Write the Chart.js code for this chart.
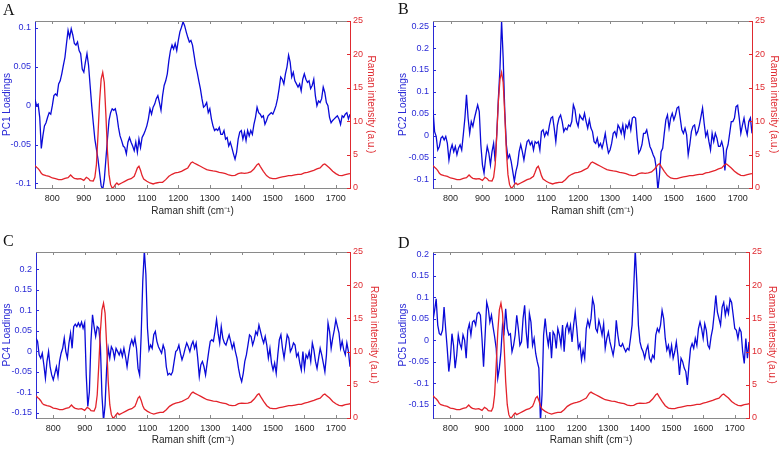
<!DOCTYPE html>
<html>
<head>
<meta charset="utf-8">
<script src="https://cdn.jsdelivr.net/npm/chart.js@4.4.0/dist/chart.umd.min.js"></script>
<style>
html, body { margin: 0; padding: 0; background: #fff; }
#fig { position: relative; width: 780px; height: 449px; overflow: hidden; }
.panel { position: absolute; }
.panel canvas { display: block; }
.tag { position: absolute; font-family: "Liberation Serif", "Times New Roman", serif; font-size: 16px; line-height: 16px; color: #111; }
</style>
</head>
<body>
<div id="fig">
  <div class="panel" style="left:0px;top:0px"><canvas id="chartA" width="390" height="225"></canvas></div>
  <div class="panel" style="left:390px;top:0px"><canvas id="chartB" width="390" height="225"></canvas></div>
  <div class="panel" style="left:0px;top:225px"><canvas id="chartC" width="390" height="224"></canvas></div>
  <div class="panel" style="left:390px;top:225px"><canvas id="chartD" width="390" height="224"></canvas></div>
  <div class="tag" style="left:3px;top:2px">A</div>
  <div class="tag" style="left:398px;top:1px">B</div>
  <div class="tag" style="left:3px;top:233px">C</div>
  <div class="tag" style="left:398px;top:235px">D</div>
</div>
<script>
// Raman shift grid of the PCA loadings (cm-1)
const ramanShift = [
    745, 750, 755, 760, 765, 770, 775, 780, 785, 790, 795,
    800, 805, 810, 815, 820, 825, 830, 835, 840, 845, 850, 855, 860, 865, 870, 875, 880, 885, 890, 895,
    900, 905, 910, 915, 920, 925, 930, 935, 940, 945, 950, 955, 960, 965, 970, 975, 980, 985, 990, 995,
    1000, 1005, 1010, 1015, 1020, 1025, 1030, 1035, 1040, 1045, 1050, 1055, 1060, 1065, 1070, 1075, 1080, 1085, 1090, 1095,
    1100, 1105, 1110, 1115, 1120, 1125, 1130, 1135, 1140, 1145, 1150, 1155, 1160, 1165, 1170, 1175, 1180, 1185, 1190, 1195,
    1200, 1205, 1210, 1215, 1220, 1225, 1230, 1235, 1240, 1245, 1250, 1255, 1260, 1265, 1270, 1275, 1280, 1285, 1290, 1295,
    1300, 1305, 1310, 1315, 1320, 1325, 1330, 1335, 1340, 1345, 1350, 1355, 1360, 1365, 1370, 1375, 1380, 1385, 1390, 1395,
    1400, 1405, 1410, 1415, 1420, 1425, 1430, 1435, 1440, 1445, 1450, 1455, 1460, 1465, 1470, 1475, 1480, 1485, 1490, 1495,
    1500, 1505, 1510, 1515, 1520, 1525, 1530, 1535, 1540, 1545, 1550, 1555, 1560, 1565, 1570, 1575, 1580, 1585, 1590, 1595,
    1600, 1605, 1610, 1615, 1620, 1625, 1630, 1635, 1640, 1645, 1650, 1655, 1660, 1665, 1670, 1675, 1680, 1685, 1690, 1695,
    1700, 1705, 1710, 1715, 1720, 1725, 1730, 1735, 1740, 1745
];

const pc1Loadings = [
    0.008, 0.0, 0.002, -0.015, -0.055, -0.039, -0.026, -0.022, -0.015, -0.009, -0.011,
    0.0, 0.013, 0.015, 0.013, 0.028, 0.032, 0.041, 0.052, 0.062, 0.08, 0.097, 0.088, 0.099, 0.091, 0.08, 0.078, 0.082, 0.071, 0.067, 0.047,
    0.043, 0.056, 0.067, 0.052, 0.026, 0.0, -0.022, -0.043, -0.056, -0.069, -0.086, -0.103, -0.108, -0.095, -0.069, -0.043, -0.019, -0.009, -0.004, -0.006,
    -0.004, -0.013, -0.028, -0.039, -0.045, -0.052, -0.054, -0.062, -0.047, -0.041, -0.047, -0.052, -0.058, -0.047, -0.060, -0.043, -0.054, -0.041, -0.037, -0.032,
    -0.026, -0.017, -0.004, -0.011, -0.002, 0.002, 0.009, 0.013, 0.004, -0.006, 0.013, 0.026, 0.032, 0.041, 0.058, 0.071, 0.078, 0.073, 0.080, 0.071,
    0.084, 0.095, 0.101, 0.108, 0.103, 0.095, 0.088, 0.082, 0.084, 0.078, 0.065, 0.052, 0.043, 0.032, 0.022, 0.009, -0.002, 0.0, 0.004, -0.009,
    -0.004, -0.017, -0.026, -0.032, -0.030, -0.032, -0.028, -0.037, -0.037, -0.032, -0.043, -0.041, -0.052, -0.047, -0.054, -0.062, -0.069, -0.060, -0.043, -0.034,
    -0.032, -0.043, -0.034, -0.045, -0.032, -0.039, -0.032, -0.037, -0.024, -0.015, -0.002, -0.009, -0.011, -0.015, -0.013, -0.024, -0.019, -0.013, -0.011, -0.009,
    -0.011, -0.006, 0.0, 0.009, 0.022, 0.037, 0.034, 0.028, 0.041, 0.050, 0.065, 0.056, 0.037, 0.043, 0.032, 0.028, 0.024, 0.028, 0.019, 0.034,
    0.041, 0.034, 0.030, 0.032, 0.022, 0.026, 0.034, 0.013, 0.0, 0.006, 0.004, 0.009, 0.024, 0.017, 0.004, 0.0, -0.015, -0.022, -0.019, -0.017,
    -0.015, -0.013, -0.017, -0.024, -0.013, -0.015, -0.011, -0.009, -0.017, -0.011
];

const pc2Loadings = [
    0.059, 0.009, -0.002, -0.033, -0.025, -0.006, -0.002, -0.010, -0.002, -0.018, -0.056,
    -0.033, -0.021, -0.037, -0.025, -0.044, -0.029, -0.021, -0.033, 0.002, 0.040, 0.093, 0.040, 0.005, 0.032, 0.021, 0.040, 0.055, 0.070, 0.055, -0.021,
    -0.067, -0.086, -0.052, -0.025, -0.040, -0.067, -0.037, -0.018, -0.059, 0.005, 0.085, 0.154, 0.262, 0.177, 0.055, -0.021, -0.052, -0.044, -0.059, -0.082,
    -0.105, -0.082, -0.067, -0.037, -0.021, -0.037, -0.056, -0.033, -0.014, -0.010, -0.021, -0.014, -0.033, -0.014, -0.018, -0.014, -0.033, 0.009, 0.013, -0.002,
    0.009, 0.002, 0.024, 0.040, 0.043, 0.017, -0.014, 0.024, 0.040, 0.047, 0.032, 0.009, 0.017, 0.013, 0.024, 0.021, 0.032, 0.070, 0.059, 0.032,
    0.021, 0.047, 0.040, 0.036, 0.051, 0.032, 0.017, 0.036, 0.017, 0.009, -0.014, -0.018, -0.006, -0.025, -0.018, -0.029, -0.014, 0.005, -0.021, -0.040,
    -0.033, -0.018, 0.005, 0.009, -0.002, 0.024, 0.017, 0.005, 0.024, -0.002, 0.024, 0.017, 0.032, 0.013, 0.040, 0.043, 0.040, -0.006, -0.040, -0.033,
    -0.021, 0.005, 0.005, 0.013, -0.006, -0.025, -0.033, -0.044, -0.052, -0.075, -0.125, -0.090, -0.037, -0.029, 0.005, 0.036, 0.047, 0.017, 0.040, 0.051,
    0.036, 0.047, 0.063, 0.066, 0.040, 0.013, 0.005, 0.017, 0.002, -0.044, -0.021, 0.009, 0.021, 0.024, 0.002, 0.009, 0.024, 0.043, 0.063, 0.028,
    -0.002, 0.009, -0.014, -0.033, 0.005, -0.014, 0.005, -0.006, -0.025, -0.025, -0.014, -0.029, -0.080, -0.033, -0.021, 0.005, 0.032, 0.032, 0.040, 0.066,
    0.069, 0.040, 0.005, 0.024, 0.040, 0.017, 0.002, 0.032, 0.040, 0.005
];

const pc4Loadings = [
    0.032, 0.024, -0.009, -0.017, -0.005, -0.033, -0.066, -0.025, -0.001, -0.038, -0.058,
    -0.070, -0.054, -0.038, -0.062, -0.025, -0.005, 0.007, 0.032, -0.001, -0.017, 0.020, 0.044, 0.007, 0.060, 0.066, 0.060, 0.069, 0.060, 0.071, 0.056,
    0.069, -0.058, -0.135, -0.099, 0.024, 0.089, 0.060, 0.036, 0.060, 0.056, 0.015, -0.107, -0.170, -0.131, -0.042, 0.007, -0.017, 0.011, 0.003, -0.017,
    0.007, -0.001, -0.009, 0.003, -0.013, 0.007, -0.013, -0.038, -0.009, 0.015, 0.028, 0.015, 0.032, 0.007, -0.042, -0.058, 0.040, 0.170, 0.245, 0.187,
    0.056, 0.003, 0.015, 0.007, 0.040, 0.048, 0.024, 0.011, 0.003, -0.005, 0.015, 0.003, -0.038, -0.058, -0.054, -0.058, -0.050, -0.025, -0.001, 0.003,
    0.015, -0.005, -0.021, -0.009, 0.007, 0.020, 0.011, -0.001, 0.015, 0.024, 0.007, 0.020, -0.017, -0.062, -0.033, -0.025, -0.038, -0.058, -0.029, -0.001,
    0.024, 0.028, 0.024, 0.048, 0.077, 0.044, 0.020, 0.060, 0.032, 0.020, 0.015, 0.028, 0.040, 0.024, 0.007, 0.020, -0.001, -0.017, -0.042, -0.062,
    -0.074, -0.054, -0.025, -0.009, 0.015, 0.040, 0.036, 0.015, 0.028, 0.048, 0.040, 0.064, 0.048, 0.032, 0.020, 0.036, 0.015, -0.017, 0.007, -0.029,
    -0.046, -0.029, -0.054, -0.009, 0.028, 0.040, 0.007, -0.017, 0.011, 0.040, 0.032, -0.001, 0.007, 0.020, 0.015, -0.013, -0.005, -0.029, -0.046, -0.001,
    -0.042, -0.009, -0.017, -0.001, -0.025, 0.020, 0.003, -0.025, -0.042, -0.017, 0.007, -0.009, -0.029, -0.050, -0.009, 0.069, 0.048, 0.007, 0.032, 0.052,
    0.077, 0.060, 0.044, 0.007, 0.024, 0.003, -0.009, 0.020, -0.001, -0.038
];

const pc5Loadings = [
    0.046, 0.069, 0.096, 0.035, 0.015, 0.012, 0.023, 0.077, 0.027, -0.019, -0.073,
    -0.042, 0.015, -0.012, -0.065, -0.035, 0.012, -0.008, -0.019, 0.012, 0.0, -0.042, 0.023, 0.038, 0.012, 0.042, 0.046, 0.035, 0.062, 0.065, 0.058,
    0.004, -0.062, 0.012, 0.088, 0.073, 0.042, 0.058, 0.031, 0.008, -0.019, -0.088, -0.065, -0.027, 0.035, 0.019, 0.073, 0.027, 0.012, 0.015, -0.027,
    -0.012, 0.012, 0.058, 0.027, -0.012, -0.004, 0.050, 0.081, 0.019, -0.019, 0.062, 0.042, -0.012, 0.004, -0.031, -0.050, -0.065, -0.190, -0.127, 0.012,
    0.050, 0.012, -0.012, 0.019, -0.042, 0.019, 0.012, -0.019, 0.027, 0.012, -0.012, 0.035, -0.027, 0.027, 0.038, 0.019, 0.035, -0.004, 0.035, 0.065,
    0.027, -0.019, -0.008, -0.046, -0.023, -0.042, 0.027, 0.046, 0.031, 0.050, 0.096, 0.081, 0.027, 0.019, 0.046, 0.031, 0.012, 0.038, -0.019, 0.004,
    0.019, -0.004, -0.019, -0.035, -0.012, 0.046, 0.012, -0.012, -0.015, -0.008, -0.019, -0.027, -0.019, -0.023, 0.004, 0.035, 0.119, 0.210, 0.135, 0.035,
    -0.004, -0.019, -0.027, -0.042, -0.023, -0.012, -0.042, -0.050, -0.035, -0.042, 0.012, 0.027, 0.019, 0.035, 0.069, 0.050, 0.004, -0.023, -0.012, -0.035,
    -0.012, -0.042, -0.027, -0.004, -0.035, -0.081, -0.042, -0.050, -0.065, -0.073, -0.104, -0.058, -0.019, -0.008, -0.019, 0.004, -0.012, 0.027, 0.042, 0.027,
    0.004, 0.038, 0.023, -0.012, -0.019, 0.008, 0.027, 0.062, 0.104, 0.065, 0.050, 0.035, 0.077, 0.088, 0.058, 0.077, 0.062, 0.096, 0.088, 0.058,
    0.027, 0.023, 0.004, 0.027, 0.019, -0.027, -0.054, 0.004, -0.042, -0.004
];

// Mean Raman spectrum (same in every panel)
const spectrumShift = [
    745, 750, 755, 760, 765, 770, 780, 790, 800, 810, 820, 830, 840, 850, 858, 865, 870, 880, 890, 900,
    908, 915, 920, 930, 935, 940, 945, 950, 955, 960, 965, 970, 975, 980, 985, 990, 995, 1000, 1005, 1010,
    1020, 1030, 1040, 1050, 1060, 1065, 1070, 1075, 1080, 1085, 1090, 1100, 1110, 1120, 1130, 1140, 1150, 1160, 1170, 1180,
    1190, 1200, 1210, 1220, 1230, 1240, 1245, 1250, 1260, 1270, 1280, 1290, 1300, 1310, 1320, 1330, 1340, 1350, 1360, 1370,
    1380, 1390, 1400, 1410, 1420, 1430, 1440, 1450, 1455, 1460, 1470, 1480, 1490, 1500, 1510, 1520, 1530, 1540, 1550, 1560,
    1570, 1580, 1590, 1600, 1610, 1620, 1630, 1640, 1650, 1660, 1665, 1670, 1680, 1690, 1700, 1710, 1720, 1730, 1740, 1745
];
const spectrumIntensity = [
    3.35, 3.1, 2.9, 2.6, 2.2, 2.0, 1.85, 1.75, 1.5, 1.4, 1.25, 1.25, 1.45, 1.55, 1.95, 1.6, 1.45, 1.35, 1.4, 1.15,
    1.6, 1.4, 1.1, 1.05, 1.6, 3.5, 8.0, 13.0, 16.3, 17.3, 15.8, 11.0, 5.5, 2.0, 0.5, 0.0, 0.15, 0.5, 0.75, 0.5,
    0.75, 1.0, 1.25, 1.4, 1.75, 2.35, 3.0, 3.25, 2.65, 1.85, 1.35, 1.0, 0.75, 0.6, 0.75, 0.85, 0.85, 1.25, 1.75, 2.05,
    2.25, 2.35, 2.5, 2.75, 3.0, 3.75, 3.9, 3.75, 3.5, 3.25, 3.0, 2.75, 2.65, 2.55, 2.5, 2.35, 2.25, 2.15, 1.95, 1.85,
    1.9, 2.15, 2.25, 2.2, 2.25, 2.4, 2.85, 3.5, 3.65, 3.25, 2.5, 1.85, 1.5, 1.4, 1.4, 1.55, 1.65, 1.75, 1.85, 1.85,
    1.95, 2.05, 2.05, 2.25, 2.35, 2.5, 2.65, 2.85, 3.0, 3.5, 3.6, 3.4, 3.0, 2.5, 2.15, 1.9, 1.85, 2.0, 2.1, 2.15
];

// Tick labels
const shiftTicks = [800, 900, 1000, 1100, 1200, 1300, 1400, 1500, 1600, 1700];
const intensityTicks = [0, 5, 10, 15, 20, 25];
const pc1Ticks = [-0.1, -0.05, 0, 0.05, 0.1];
const pc2Ticks = [-0.1, -0.05, 0, 0.05, 0.1, 0.15, 0.2, 0.25];
const pc4Ticks = [-0.15, -0.1, -0.05, 0, 0.05, 0.1, 0.15, 0.2];
const pc5Ticks = [-0.15, -0.1, -0.05, 0, 0.05, 0.1, 0.15, 0.2];

// Colours
const colors = {
    loadings: '#0a0ad8',
    loadingsText: '#2a2ad6',
    raman: '#e3232b',
    ramanText: '#df2a30',
    frame: '#8a8a8a',
    text: '#262626'
};

Chart.defaults.font.family = '"Liberation Sans", Arial, Helvetica, sans-serif';
Chart.defaults.font.size = 9;

// Matlab-like box: top edge plus inward tick marks on all four sides
const boxPlugin = {
    id: 'matlabBox',
    afterDatasetsDraw(chart) {
        const { ctx, chartArea: a, scales } = chart;
        const len = 3;
        ctx.save();
        ctx.lineWidth = 1;
        ctx.strokeStyle = colors.frame;
        ctx.beginPath();
        ctx.moveTo(a.left, a.top + 0.5);
        ctx.lineTo(a.right, a.top + 0.5);
        scales.x.ticks.forEach(t => {
            const px = Math.round(scales.x.getPixelForValue(t.value)) + 0.5;
            ctx.moveTo(px, a.bottom);
            ctx.lineTo(px, a.bottom - len);
            ctx.moveTo(px, a.top);
            ctx.lineTo(px, a.top + len);
        });
        ctx.stroke();

        ctx.strokeStyle = colors.loadingsText;
        ctx.beginPath();
        scales.y.ticks.forEach(t => {
            const py = Math.round(scales.y.getPixelForValue(t.value)) + 0.5;
            ctx.moveTo(a.left, py);
            ctx.lineTo(a.left + len, py);
        });
        ctx.stroke();

        ctx.strokeStyle = colors.ramanText;
        ctx.beginPath();
        scales.y1.ticks.forEach(t => {
            const py = Math.round(scales.y1.getPixelForValue(t.value)) + 0.5;
            ctx.moveTo(a.right, py);
            ctx.lineTo(a.right - len, py);
        });
        ctx.stroke();
        ctx.restore();
    }
};

function fixedTicks(values) {
    return function(scale) {
        scale.ticks = values.map(v => ({ value: v }));
    };
}

function initPanel(canvasId, loadings, yLabel, yMin, yMax, yTicks, geom) {
    const ctx = document.getElementById(canvasId).getContext('2d');

    const loadingPoints = ramanShift.map((x, i) => ({ x: x, y: loadings[i] }));
    const spectrumPoints = spectrumShift.map((x, i) => ({ x: x, y: spectrumIntensity[i] }));

    return new Chart(ctx, {
        type: 'line',
        data: {
            datasets: [
                {
                    label: 'Raman intensity',
                    data: spectrumPoints,
                    yAxisID: 'y1',
                    borderColor: colors.raman,
                    borderWidth: 1.3,
                    pointRadius: 0,
                    tension: 0,
                    fill: false,
                    clip: 0,
                    order: 0
                },
                {
                    label: yLabel,
                    data: loadingPoints,
                    yAxisID: 'y',
                    borderColor: colors.loadings,
                    borderWidth: 1.3,
                    pointRadius: 0,
                    tension: 0,
                    fill: false,
                    clip: 0,
                    order: 1
                }
            ]
        },
        options: {
            responsive: false,
            devicePixelRatio: 1,
            animation: false,
            events: [],
            layout: { padding: geom.pad },
            plugins: {
                legend: { display: false },
                tooltip: { enabled: false }
            },
            scales: {
                x: {
                    type: 'linear',
                    min: 745,
                    max: 1745,
                    afterBuildTicks: fixedTicks(shiftTicks),
                    afterFit: s => { s.height = geom.bottomH; },
                    grid: { display: false, drawTicks: false },
                    border: { display: true, color: colors.frame, width: 1 },
                    ticks: {
                        color: colors.text,
                        padding: 5,
                        autoSkip: false,
                        maxRotation: 0,
                        callback: v => String(v)
                    },
                    title: {
                        display: true,
                        text: 'Raman shift (cm\u207B\u00B9)',
                        color: colors.text,
                        font: { size: 10 },
                        padding: { top: 0, bottom: geom.xTitlePad }
                    }
                },
                y: {
                    type: 'linear',
                    position: 'left',
                    min: yMin,
                    max: yMax,
                    afterBuildTicks: fixedTicks(yTicks),
                    afterFit: s => { s.width = geom.leftW; },
                    grid: { display: false, drawTicks: false },
                    border: { display: true, color: colors.loadingsText, width: 1 },
                    ticks: {
                        color: colors.loadingsText,
                        padding: 4,
                        callback: v => String(v)
                    },
                    title: {
                        display: true,
                        text: yLabel,
                        color: colors.loadingsText,
                        font: { size: 10 },
                        padding: { top: 1, bottom: 0 }
                    }
                },
                y1: {
                    type: 'linear',
                    position: 'right',
                    min: 0,
                    max: 25,
                    afterBuildTicks: fixedTicks(intensityTicks),
                    afterFit: s => { s.width = geom.rightW; },
                    grid: { display: false, drawTicks: false },
                    border: { display: true, color: colors.ramanText, width: 1 },
                    ticks: {
                        color: colors.ramanText,
                        padding: 3,
                        callback: v => String(v)
                    },
                    title: {
                        display: true,
                        text: 'Raman intensity (a.u.)',
                        color: colors.ramanText,
                        font: { size: 10 },
                        padding: { top: 0, bottom: 0 }
                    }
                }
            }
        },
        plugins: [boxPlugin]
    });
}

initPanel('chartA', pc1Loadings, 'PC1 Loadings', -0.106, 0.109, pc1Ticks,
    { pad: { left: 0, top: 21, right: 13, bottom: 0 }, leftW: 35, rightW: 27, bottomH: 37, xTitlePad: 8 });
initPanel('chartB', pc2Loadings, 'PC2 Loadings', -0.12, 0.262, pc2Ticks,
    { pad: { left: 6, top: 21, right: 0, bottom: 0 }, leftW: 37, rightW: 28, bottomH: 37, xTitlePad: 8 });
initPanel('chartC', pc4Loadings, 'PC4 Loadings', -0.163, 0.242, pc4Ticks,
    { pad: { left: 0, top: 27, right: 10, bottom: 0 }, leftW: 36, rightW: 30, bottomH: 31, xTitlePad: 3 });
initPanel('chartD', pc5Loadings, 'PC5 Loadings', -0.181, 0.205, pc5Ticks,
    { pad: { left: 6, top: 27, right: 2, bottom: 0 }, leftW: 37, rightW: 29, bottomH: 31, xTitlePad: 3 });
</script>
</body>
</html>
